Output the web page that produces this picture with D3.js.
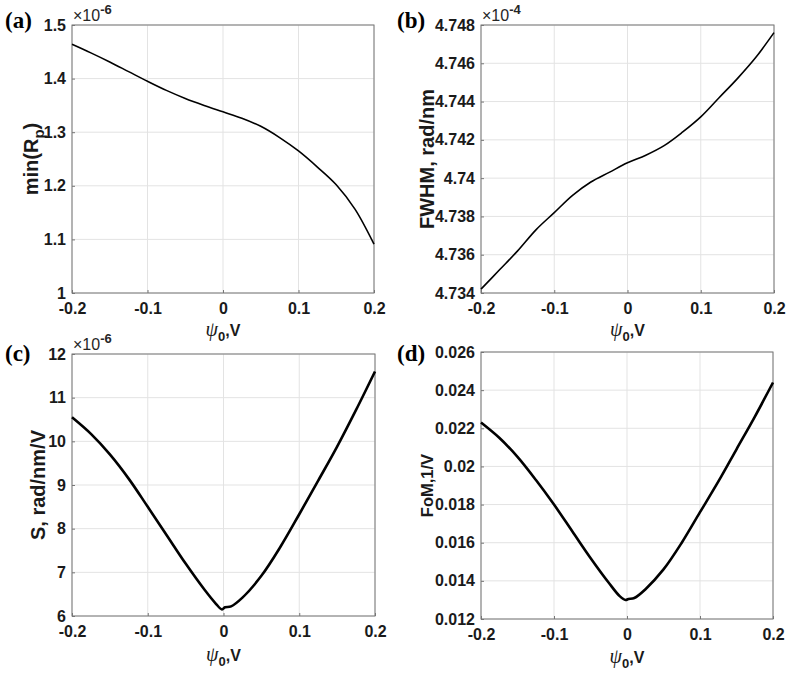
<!DOCTYPE html>
<meta charset="utf-8">
<style>
    body { margin: 0; background: #fff; }
    .tick text { font: bold 16px "Liberation Sans", Arial, sans-serif; fill: #1a1a1a; }
    .ylab { font-family: "Liberation Sans", Arial, sans-serif; font-weight: bold; fill: #1a1a1a; }
    .xlab { font: bold 16px "Liberation Sans", Arial, sans-serif; fill: #1a1a1a; }
    .psi { font: italic 20px "Liberation Serif", "Times New Roman", serif; font-weight: normal; }
    .expo { font: 16px "Liberation Sans", Arial, sans-serif; fill: #262626; }
    .panel { font: bold 23px "Liberation Serif", serif; fill: #000; }
    .grid line { stroke: #e3e3e3; stroke-width: 1; }
    .box { fill: none; stroke: #777; stroke-width: 1; }
    .curve { fill: none; stroke: #000; stroke-linejoin: round; }
</style>
<svg width="790" height="675"></svg>
<script src="https://d3js.org/d3.v7.min.js"></script>
<script>

    // psi_0 values (V), for panels a and b
    const psi = [-0.2, -0.175, -0.15, -0.125, -0.1, -0.075, -0.05, -0.025, 0, 0.025, 0.05, 0.075, 0.1, 0.125, 0.15, 0.175, 0.2];
    // min(Rp), x1e-6
    const minRp = [1.464, 1.448, 1.431, 1.413, 1.395, 1.378, 1.363, 1.350, 1.338, 1.326, 1.311, 1.290, 1.265, 1.235, 1.202, 1.156, 1.091];
    // FWHM, x1e-4 rad/nm
    const fwhm = [4.7342, 4.7352, 4.7362, 4.7373, 4.7382, 4.7391, 4.7398, 4.7403, 4.7408, 4.7412, 4.7417, 4.7424, 4.7432, 4.7442, 4.7452, 4.7463, 4.7476];

    // S and FoM have a small break right at zero, so they get their own x array
    const psiS = [-0.2, -0.175, -0.15, -0.125, -0.1, -0.075, -0.05, -0.025, -0.01, -0.002, 0.002, 0.01, 0.025, 0.05, 0.075, 0.1, 0.125, 0.15, 0.175, 0.2];
    // S, x1e-6 rad/nm/V
    const sens = [10.55, 10.17, 9.7, 9.14, 8.5, 7.85, 7.2, 6.6, 6.28, 6.15, 6.2, 6.22, 6.42, 6.92, 7.58, 8.33, 9.1, 9.88, 10.72, 11.6];
    // FoM, 1/V
    const fom = [0.0223, 0.0215, 0.0205, 0.0193, 0.0180, 0.0166, 0.0152, 0.0139, 0.0132, 0.0130, 0.01305, 0.0131, 0.01355, 0.0146, 0.0160, 0.0176, 0.0192, 0.0209, 0.0226, 0.0244];

    const xTicks = [-0.2, -0.1, 0, 0.1, 0.2];
    const xTickLabels = ["-0.2", "-0.1", "0", "0.1", "0.2"];

    const yTicksA = [1, 1.1, 1.2, 1.3, 1.4, 1.5];
    const yTickLabelsA = ["1", "1.1", "1.2", "1.3", "1.4", "1.5"];
    const yTicksB = [4.734, 4.736, 4.738, 4.74, 4.742, 4.744, 4.746, 4.748];
    const yTickLabelsB = ["4.734", "4.736", "4.738", "4.74", "4.742", "4.744", "4.746", "4.748"];
    const yTicksC = [6, 7, 8, 9, 10, 11, 12];
    const yTickLabelsC = ["6", "7", "8", "9", "10", "11", "12"];
    const yTicksD = [0.012, 0.014, 0.016, 0.018, 0.02, 0.022, 0.024, 0.026];
    const yTickLabelsD = ["0.012", "0.014", "0.016", "0.018", "0.02", "0.022", "0.024", "0.026"];

    const svg = d3.select("svg");

    const panels = [
        { tag: "(a)", box: [72, 25, 374, 293], xs: psi, ys: minRp, yt: yTicksA, yl: yTickLabelsA,
          expo: "-6", ylabel: ["min(R", "p", ")"], ylx: 31, yfs: 20, lw: 1.6, xlabY: 336 },
        { tag: "(b)", box: [481, 25, 774, 293], xs: psi, ys: fwhm, yt: yTicksB, yl: yTickLabelsB,
          expo: "-4", ylabel: ["FWHM, rad/nm"], ylx: 427, yfs: 20, lw: 1.6, xlabY: 336 },
        { tag: "(c)", box: [72, 354, 375, 616], xs: psiS, ys: sens, yt: yTicksC, yl: yTickLabelsC,
          expo: "-6", ylabel: ["S, rad/nm/V"], ylx: 38, yfs: 20, lw: 2.6, xlabY: 661 },
        { tag: "(d)", box: [481, 352, 773, 619], xs: psiS, ys: fom, yt: yTicksD, yl: yTickLabelsD,
          expo: null, ylabel: ["FoM,1/V"], ylx: 427, yfs: 16.5, lw: 2.6, xlabY: 663 }
    ];

    panels.forEach(function(p) {
        const [x0, y0, x1, y1] = p.box;
        const x = d3.scaleLinear().domain([-0.2, 0.2]).range([x0, x1]);
        const y = d3.scaleLinear().domain([p.yt[0], p.yt[p.yt.length - 1]]).range([y1, y0]);
        const g = svg.append("g");

        // grid
        const grid = g.append("g").attr("class", "grid");
        grid.selectAll(".gx").data(xTicks).enter().append("line")
            .attr("x1", d => x(d)).attr("x2", d => x(d)).attr("y1", y0).attr("y2", y1);
        grid.selectAll(".gy").data(p.yt).enter().append("line")
            .attr("x1", x0).attr("x2", x1).attr("y1", d => y(d)).attr("y2", d => y(d));

        // axes, ticks pointing inward like matlab
        const xAxis = g.append("g").attr("transform", "translate(0," + y1 + ")")
            .call(d3.axisBottom(x).tickValues(xTicks).tickSizeInner(-3).tickSizeOuter(0).tickPadding(9)
                .tickFormat((d, i) => xTickLabels[i]));
        const yAxis = g.append("g").attr("transform", "translate(" + x0 + ",0)")
            .call(d3.axisLeft(y).tickValues(p.yt).tickSizeInner(-3).tickSizeOuter(0).tickPadding(6)
                .tickFormat((d, i) => p.yl[i]));
        [xAxis, yAxis].forEach(a => {
            a.select(".domain").remove();
            a.selectAll(".tick line").attr("stroke", "#777");
        });
        xAxis.selectAll(".tick text").attr("dy", "0.78em");

        g.append("rect").attr("class", "box")
            .attr("x", x0).attr("y", y0).attr("width", x1 - x0).attr("height", y1 - y0);

        // curve
        const line = d3.line().x((d, i) => x(p.xs[i])).y(d => y(d)).curve(d3.curveCatmullRom.alpha(0.5));
        g.append("path").attr("class", "curve").attr("stroke-width", p.lw).attr("d", line(p.ys));

        // exponent label
        if (p.expo) {
            const t = g.append("text").attr("class", "expo").attr("x", x0 + 1).attr("y", y0 - 4);
            t.append("tspan").text("\u00d710");
            t.append("tspan").attr("dy", -7).style("font-size", "13px").style("font-weight", "bold").text(p.expo);
        }

        // y label
        const yl = g.append("text").attr("class", "ylab").style("font-size", p.yfs + "px")
            .attr("transform", "translate(" + p.ylx + "," + ((y0 + y1) / 2) + ") rotate(-90)")
            .attr("text-anchor", "middle").attr("dy", "0.35em");
        yl.append("tspan").text(p.ylabel[0]);
        if (p.ylabel.length > 1) {
            yl.append("tspan").attr("dy", 6).style("font-size", "15px").text(p.ylabel[1]);
            yl.append("tspan").attr("dy", -6).text(p.ylabel[2]);
        }

        // x label: psi_0,V
        const xl = g.append("text").attr("class", "xlab")
            .attr("x", (x0 + x1) / 2).attr("y", p.xlabY).attr("text-anchor", "middle");
        xl.append("tspan").attr("class", "psi").text("\u03c8");
        xl.append("tspan").attr("dy", 5).style("font-size", "13px").text("0");
        xl.append("tspan").attr("dy", -5).text(",V");

        // panel tag
        svg.append("text").attr("class", "panel")
            .attr("x", x0 < 200 ? 5 : 397).attr("y", y0 < 100 ? 28 : 361)
            .text(p.tag);
    });

</script>
